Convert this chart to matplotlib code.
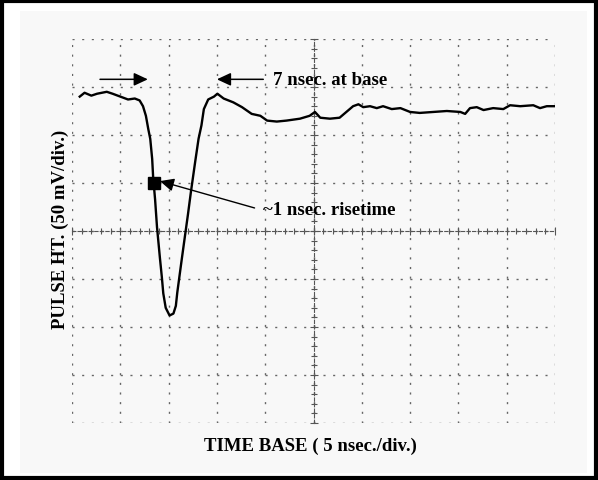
import matplotlib.pyplot as plt
from matplotlib.patches import Rectangle
from matplotlib.ticker import MultipleLocator

# trace: time in ns (5 ns/div), pulse height in mV (50 mV/div)
time_ns = [0.8, 1.3, 2.0, 2.6, 3.6, 4.2, 5.0, 5.8, 6.5, 7.0, 7.35, 7.65, 7.9, 8.1,
           8.3, 8.4, 8.6, 8.8, 9.1, 9.3, 9.45, 9.7, 10.1, 10.5, 10.75, 10.9, 11.3,
           11.6, 12.0, 12.3, 12.75, 13.1, 13.4, 13.65, 14.1, 14.7, 15.05, 15.7, 16.7,
           17.6, 18.6, 19.5, 20.2, 21.2, 22.2, 23.6, 24.6, 25.15, 25.7, 26.7, 27.7,
           28.4, 29.1, 29.65, 30.15, 30.85, 31.55, 32.2, 33.1, 34.0, 35.0, 36.0, 37.4,
           38.8, 40.2, 40.7, 41.2, 41.9, 42.6, 43.6, 44.65, 45.35, 46.4, 47.75, 48.45,
           49.15, 50.0]
pulse_mv = [140, 144, 141, 143, 145, 143, 140, 137, 138, 136, 130, 120, 106, 96,
            75, 56, 33, 4, -28, -48, -65, -80, -88, -86, -78, -64, -34, -12, 17, 40,
            72, 96, 110, 127, 137, 140, 143, 138, 134, 129, 122, 120, 115, 114, 115,
            117, 120, 124, 118, 117, 118, 124, 130, 132, 129, 130, 128, 130, 127, 128,
            124, 123, 124, 125, 124, 122, 128, 129, 126, 128, 127, 131, 130, 131, 128,
            130, 130]

# annotations (ns, mV)
base_arrow_left = (2.9, 7.85)
base_arrow_right = (19.8, 15.0)
base_arrow_mv = 158
base_label = "7 nsec. at base"
base_label_pos = (20.8, 158)

risetime_marker = (8.45, 50)
risetime_tip = (9.1, 52)
risetime_label = "~1 nsec. risetime"
risetime_tail = (18.9, 24)
risetime_label_pos = (19.8, 22)

font = {'family': 'Liberation Serif', 'weight': 'bold', 'size': 13.5}

fig = plt.figure(figsize=(5.98, 4.81), dpi=100)
fig.patch.set_facecolor('white')
W, H = 598.0, 481.0

# scanned panel + black frame
fig.patches.append(Rectangle((20 / W, 1 - 474 / H), 567 / W, 462 / H,
                             transform=fig.transFigure, facecolor='#f8f8f8',
                             edgecolor='none', zorder=-10))
fig.patches.append(Rectangle((0.004, 0.004), 0.992, 0.992, transform=fig.transFigure,
                             facecolor='none', edgecolor='black', linewidth=3, zorder=10))

ax = fig.add_axes([72 / W, 1 - 424 / H, 483 / W, 384 / H])
ax.set_facecolor('none')
ax.set_xlim(0, 50)
ax.set_ylim(-200, 200)

# graticule
ax.xaxis.set_major_locator(MultipleLocator(5))
ax.yaxis.set_major_locator(MultipleLocator(50))
ax.xaxis.set_minor_locator(MultipleLocator(1))
ax.yaxis.set_minor_locator(MultipleLocator(10))
ax.grid(True, which='major', color='#666666', linestyle=(0, (1.5, 5.45)), linewidth=1.0)
ax.set_xticklabels([])
ax.set_yticklabels([])

ax.spines['top'].set_visible(False)
ax.spines['right'].set_visible(False)
ax.spines['bottom'].set_position(('data', 0))
ax.spines['left'].set_position(('data', 25))
for s in ('bottom', 'left'):
    ax.spines[s].set_linestyle((0, (3, 2)))
    ax.spines[s].set_linewidth(0.8)
    ax.spines[s].set_color('#555555')
ax.tick_params(which='both', direction='inout', color='#555555', width=0.8)
ax.tick_params(which='major', length=6)
ax.tick_params(which='minor', length=4)

# trace
ax.plot(time_ns, pulse_mv, color='black', linewidth=1.7, zorder=3)

# 7 nsec at base
ax.annotate('', xy=(base_arrow_left[1], base_arrow_mv), xytext=(base_arrow_left[0], base_arrow_mv),
            arrowprops=dict(arrowstyle='-|>,head_length=0.6,head_width=0.28', mutation_scale=14,
                            color='black', lw=1.1, shrinkA=0, shrinkB=0))
ax.annotate('', xy=(base_arrow_right[1], base_arrow_mv), xytext=(base_arrow_right[0], base_arrow_mv),
            arrowprops=dict(arrowstyle='-|>,head_length=0.6,head_width=0.28', mutation_scale=14,
                            color='black', lw=1.1, shrinkA=0, shrinkB=0))
ax.text(base_label_pos[0], base_label_pos[1], base_label, ha='left', va='center', **font)

# 1 nsec risetime
ax.plot(risetime_marker[0], risetime_marker[1], marker='s', markersize=8, color='black', zorder=4)
ax.annotate('', xy=risetime_tip, xytext=risetime_tail,
            arrowprops=dict(arrowstyle='-|>,head_length=0.6,head_width=0.28', mutation_scale=14,
                            color='black', lw=1.0, shrinkA=0, shrinkB=0))
ax.text(risetime_label_pos[0], risetime_label_pos[1], risetime_label, ha='left', va='center', **font)

fig.text(60 / W, 1 - 229 / H, 'PULSE HT. (50 mV/div.)', rotation=90, ha='center', va='center', **font)
fig.text(310 / W, 1 - 446 / H, 'TIME BASE ( 5 nsec./div.)', ha='center', va='center', **font)

fig.savefig('out.png', dpi=100)
